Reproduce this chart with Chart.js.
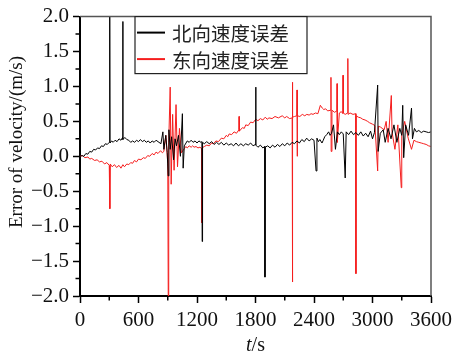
<!DOCTYPE html>
<html><head><meta charset="utf-8">
<script src="https://cdn.jsdelivr.net/npm/chart.js@4.4.0/dist/chart.umd.min.js"></script>
<style>html,body{margin:0;padding:0;background:#fff}#wrap{width:457px;height:356px}</style>
</head><body><div id="wrap"><canvas id="c" width="457" height="356"></canvas></div>
<script>
const seriesNames = ["北向速度误差", "东向速度误差"];
const yTitle = "Error of velocity/(m/s)";
const xTickLabels = [0, 600, 1200, 1800, 2400, 3000, 3600];
const yTickLabels = [-2.0, -1.5, -1.0, -0.5, 0.0, 0.5, 1.0, 1.5, 2.0];

const northT = [0,20,40,60,80,100,120,140,160,180,200,220,240,260,280,300,305,308,325,340,360,380,400,420,437,439,441,460,480,500,520,540,560,580,600,620,640,660,680,700,720,740,760,780,800,830,850,860,880,895,904,912,925,940,960,975,990,1010,1030,1050,1058,1070,1100,1120,1140,1160,1180,1200,1220,1240,1250,1253,1257,1275,1300,1325,1350,1375,1400,1425,1450,1475,1500,1525,1550,1575,1600,1625,1650,1675,1700,1725,1750,1775,1800,1802,1805,1825,1850,1875,1895,1897,1900,1925,1950,1975,2000,2025,2050,2075,2100,2125,2150,2175,2200,2225,2250,2275,2300,2325,2350,2375,2400,2421,2430,2445,2460,2482,2495,2510,2530,2550,2565,2580,2600,2620,2640,2660,2680,2700,2720,2730,2755,2780,2805,2830,2855,2880,2905,2930,2955,2980,3000,3020,3053,3058,3080,3110,3130,3160,3190,3220,3250,3280,3300,3310,3320,3340,3370,3400,3410,3430,3450,3475,3500,3525,3550,3575,3600];
const northV = [0.00,0.01,0.00,0.04,0.03,0.07,0.06,0.10,0.09,0.12,0.11,0.15,0.14,0.18,0.17,0.20,2.05,0.19,0.22,0.20,0.23,0.21,0.25,0.23,0.27,1.93,0.24,0.27,0.24,0.23,0.20,0.22,0.20,0.23,0.21,0.24,0.21,0.23,0.20,0.22,0.19,0.22,0.20,0.23,0.21,0.18,0.35,0.10,0.30,0.05,-0.28,0.38,0.10,0.28,-0.05,0.25,0.15,0.30,0.00,0.61,-0.17,0.15,0.22,0.20,0.23,0.20,0.22,0.19,0.22,0.20,0.21,-1.22,0.20,0.18,0.21,0.18,0.21,0.17,0.20,0.17,0.20,0.16,0.19,0.16,0.18,0.15,0.19,0.15,0.18,0.15,0.18,0.16,0.19,0.15,0.17,0.99,0.16,0.13,0.16,0.12,0.14,-1.73,0.13,0.15,0.12,0.16,0.13,0.17,0.14,0.18,0.15,0.19,0.16,0.20,0.18,0.22,0.19,0.24,0.21,0.26,0.22,0.25,0.23,-0.21,0.26,0.21,0.24,0.19,0.23,0.28,0.31,0.35,0.30,0.33,0.45,0.10,0.35,0.31,0.35,0.32,-0.31,0.35,0.31,0.36,0.31,0.34,0.30,0.35,0.29,0.33,0.28,0.36,0.25,0.34,1.02,0.07,0.33,0.38,0.20,0.40,0.25,0.45,0.20,0.40,0.30,0.73,-0.02,0.45,0.30,0.69,0.25,0.40,0.35,0.37,0.34,0.36,0.35,0.34,0.35];

const eastT = [0,25,50,82,100,120,150,175,200,225,252,275,300,306,310,330,354,375,400,420,440,456,480,500,520,540,558,580,600,625,650,670,694,715,740,760,780,800,826,845,860,880,900,905,910,925,935,950,965,985,1000,1020,1040,1070,1085,1100,1120,1140,1155,1170,1190,1210,1230,1248,1249,1252,1275,1300,1325,1350,1370,1394,1420,1450,1475,1500,1515,1530,1555,1580,1605,1630,1632,1634,1666,1685,1700,1725,1750,1775,1802,1825,1850,1875,1900,1920,1938,1970,2000,2035,2074,2100,2120,2150,2176,2178,2180,2182,2200,2224,2226,2228,2230,2255,2280,2305,2326,2350,2370,2390,2414,2440,2465,2485,2500,2520,2540,2572,2574,2576,2584,2610,2635,2637,2639,2660,2680,2696,2698,2700,2720,2745,2747,2750,2770,2800,2828,2830,2832,2855,2880,2900,2924,2950,2970,3000,3025,3053,3060,3080,3100,3120,3140,3160,3193,3200,3230,3260,3295,3300,3330,3366,3400,3425,3450,3475,3500,3525,3550,3575,3600];
const eastV = [0.00,0.01,-0.02,-0.01,-0.04,-0.03,-0.06,-0.05,-0.08,-0.07,-0.11,-0.09,-0.13,-0.75,-0.11,-0.15,-0.12,-0.16,-0.13,-0.17,-0.12,-0.15,-0.11,-0.12,-0.09,-0.10,-0.06,-0.08,-0.04,-0.05,-0.02,-0.03,0.01,0.00,0.04,0.02,0.06,0.04,0.08,0.05,0.07,0.30,-0.10,-2.00,0.20,0.99,-0.40,0.60,-0.20,0.74,-0.15,0.40,0.05,0.11,0.14,0.12,0.15,0.13,0.15,0.13,0.14,0.12,0.13,0.11,-0.95,0.12,0.14,0.16,0.15,0.19,0.18,0.22,0.21,0.26,0.25,0.30,0.28,0.32,0.31,0.35,0.33,0.38,0.57,0.36,0.41,0.40,0.45,0.44,0.49,0.48,0.53,0.51,0.54,0.52,0.56,0.53,0.55,0.54,0.57,0.55,0.58,0.55,0.57,0.54,0.55,1.06,-1.80,0.56,0.57,0.58,0.95,0.00,0.58,0.57,0.60,0.58,0.60,0.59,0.61,0.60,0.62,0.61,0.73,0.69,0.67,0.68,0.65,0.66,1.13,0.07,0.66,0.63,0.65,1.04,0.20,0.62,0.64,0.61,1.16,0.62,0.60,0.62,1.40,0.60,0.62,0.60,0.61,-1.68,0.58,0.56,0.55,0.53,0.52,0.50,0.48,0.46,0.44,-0.21,0.43,0.42,0.40,0.38,0.50,0.20,0.87,0.35,0.10,0.45,-0.45,0.30,0.50,0.26,0.10,0.23,0.21,0.20,0.19,0.18,0.17,0.15,0.14];

const toPts = (T, V) => T.map((t, i) => ({x: t, y: V[i]}));
const SERIF = "'Liberation Serif','DejaVu Serif',serif";
const CJK = "'Noto Sans CJK SC','Noto Sans',sans-serif";

const deco = {
  id: 'deco',
  afterDraw(chart) {
    const {ctx, chartArea: a, scales} = chart;
    ctx.save();
    ctx.strokeStyle = '#555'; ctx.lineWidth = 1.5;
    ctx.beginPath();
    ctx.moveTo(a.left, a.top); ctx.lineTo(a.right, a.top); ctx.lineTo(a.right, a.bottom);
    ctx.stroke();
    ctx.strokeStyle = '#000'; ctx.lineWidth = 1.5;
    ctx.beginPath();
    for (let v = 300; v < 3600; v += 600) {
      const px = scales.x.getPixelForValue(v);
      ctx.moveTo(px, a.bottom); ctx.lineTo(px, a.bottom + 4.5);
    }
    for (let v = -1.75; v < 2; v += 0.5) {
      const py = scales.y.getPixelForValue(v);
      ctx.moveTo(a.left, py); ctx.lineTo(a.left - 4.5, py);
    }
    ctx.stroke();
    ctx.fillStyle = '#111';
    ctx.font = '19px ' + SERIF;
    ctx.textAlign = 'center'; ctx.textBaseline = 'middle';
    ctx.save(); ctx.translate(17, 142); ctx.rotate(-Math.PI / 2);
    ctx.fillText(yTitle, 0, 0); ctx.restore();
    ctx.textAlign = 'left';
    ctx.font = 'italic 20px ' + SERIF;
    const w1 = ctx.measureText('t').width;
    ctx.font = '20px ' + SERIF;
    const w2 = ctx.measureText('/s').width;
    const cx = (a.left + a.right) / 2, sx = cx - (w1 + w2) / 2;
    ctx.font = 'italic 20px ' + SERIF; ctx.fillText('t', sx, 346);
    ctx.font = '20px ' + SERIF; ctx.fillText('/s', sx + w1, 346);
    const lx = 135, ly = a.top, lw = 172, lh = 57;
    ctx.fillStyle = '#fff'; ctx.fillRect(lx, ly, lw, lh);
    ctx.strokeStyle = '#222'; ctx.lineWidth = 1.2; ctx.strokeRect(lx, ly, lw, lh);
    ctx.font = '19.5px ' + CJK; ctx.textBaseline = 'middle';
    chart.data.datasets.forEach((ds, i) => {
      const y = ly + 16 + i * 26.5;
      ctx.strokeStyle = ds.borderColor; ctx.lineWidth = 2;
      ctx.beginPath(); ctx.moveTo(lx + 2, y); ctx.lineTo(lx + 30, y); ctx.stroke();
      ctx.fillStyle = '#222'; ctx.fillText(ds.label, lx + 37, y + 1);
    });
    ctx.restore();
  }
};

new Chart(document.getElementById('c'), {
  type: 'line',
  data: {
    datasets: [
      {label: seriesNames[0], data: toPts(northT, northV), borderColor: '#000000', borderWidth: 1, pointRadius: 0, tension: 0},
      {label: seriesNames[1], data: toPts(eastT, eastV), borderColor: '#f51e1e', borderWidth: 1, pointRadius: 0, tension: 0}
    ]
  },
  options: {
    responsive: false, animation: false, parsing: false,
    layout: {padding: {top: 14, right: 24, left: 0, bottom: 0}},
    plugins: {legend: {display: false}, tooltip: {enabled: false}},
    scales: {
      x: {
        type: 'linear', min: 0, max: 3600,
        afterFit: s => { s.height = 60; },
        afterBuildTicks: s => { s.ticks = xTickLabels.map(v => ({value: v})); },
        ticks: {color: '#111', font: {family: SERIF, size: 21}, padding: 5, maxRotation: 0, autoSkip: false,
          callback: v => String(v)},
        grid: {display: true, drawOnChartArea: false, drawTicks: true, tickLength: 7, tickColor: '#000', tickWidth: 1.5},
        border: {display: true, color: '#000', width: 2}
      },
      y: {
        min: -2, max: 2,
        afterFit: s => { s.width = 80; },
        afterBuildTicks: s => { s.ticks = yTickLabels.map(v => ({value: v})); },
        ticks: {color: '#111', font: {family: SERIF, size: 21}, padding: 4, autoSkip: false,
          callback: v => (v < 0 ? '\u2212' : '') + Math.abs(v).toFixed(1)},
        grid: {display: true, drawOnChartArea: false, drawTicks: true, tickLength: 7, tickColor: '#000', tickWidth: 1.5},
        border: {display: true, color: '#000', width: 2}
      }
    }
  },
  plugins: [deco]
});
</script></body></html>
